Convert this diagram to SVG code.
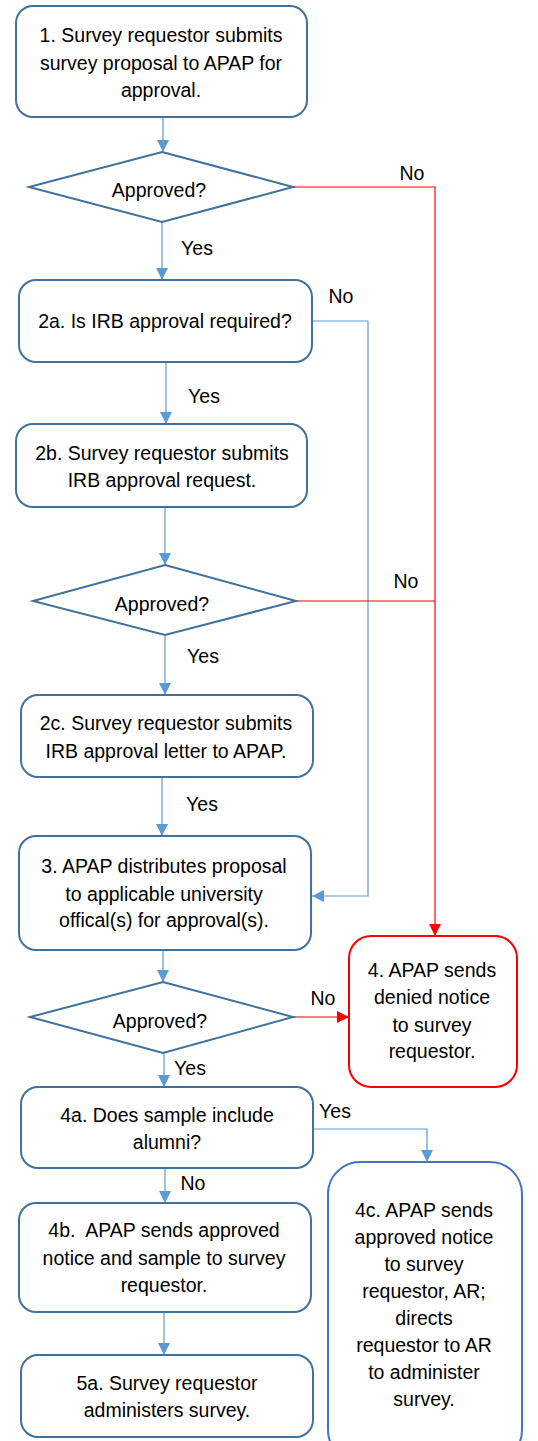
<svg xmlns="http://www.w3.org/2000/svg" width="538" height="1441" viewBox="0 0 538 1441">
<style>
.n{fill:#fff;stroke:#41719C;stroke-width:2}
.nr{fill:#fff;stroke:#FF0000;stroke-width:2}
.nb{fill:#fff;stroke:#4472C4;stroke-width:2}
.t{font-family:"Liberation Sans",Arial,sans-serif;font-size:19.5px;fill:#000;text-anchor:middle}
.cb{fill:none;stroke:#5B9BD5;stroke-width:1.2}
.cr{fill:none;stroke:#FF0000;stroke-width:1.2}
</style>
<defs>
<marker id="ab" markerUnits="userSpaceOnUse" markerWidth="12" markerHeight="12" refX="10" refY="5" orient="auto" viewBox="0 0 10 10"><path d="M0,0 L10,5 L0,10 Z" fill="#5B9BD5"/></marker>
<marker id="ar" markerUnits="userSpaceOnUse" markerWidth="12" markerHeight="12" refX="10" refY="5" orient="auto" viewBox="0 0 10 10"><path d="M0,0 L10,5 L0,10 Z" fill="#FF0000"/></marker>
</defs>
<g id="connectors">
<path class="cb" d="M163,117 V152" marker-end="url(#ab)"/>
<path class="cb" d="M162,222 V280" marker-end="url(#ab)"/>
<path class="cr" d="M293,187 H435 V936" marker-end="url(#ar)"/>
<path class="cb" d="M312,321 H368 V896 H312" marker-end="url(#ab)"/>
<path class="cb" d="M166,362 V424" marker-end="url(#ab)"/>
<path class="cb" d="M165,507 V565" marker-end="url(#ab)"/>
<path class="cr" d="M296,601 H435"/>
<path class="cb" d="M165,635 V695" marker-end="url(#ab)"/>
<path class="cb" d="M162,777 V836" marker-end="url(#ab)"/>
<path class="cb" d="M163,950 V982" marker-end="url(#ab)"/>
<path class="cr" d="M293,1017 H349" marker-end="url(#ar)"/>
<path class="cb" d="M164,1053 V1087" marker-end="url(#ab)"/>
<path class="cb" d="M313,1129 H427 V1162" marker-end="url(#ab)"/>
<path class="cb" d="M165,1168 V1203" marker-end="url(#ab)"/>
<path class="cb" d="M164,1312 V1355" marker-end="url(#ab)"/>
<g class="t">
<text x="412" y="180">No</text>
<text x="197" y="255">Yes</text>
<text x="341" y="303">No</text>
<text x="204" y="403">Yes</text>
<text x="406" y="588">No</text>
<text x="203" y="663">Yes</text>
<text x="202" y="811">Yes</text>
<text x="323" y="1005">No</text>
<text x="190" y="1075">Yes</text>
<text x="335" y="1118">Yes</text>
<text x="193" y="1190">No</text>
</g>
</g>
<g id="n1"><rect class="n" x="16" y="6" width="291" height="111" rx="17"/>
<text class="t" x="161" y="42">1. Survey requestor submits</text>
<text class="t" x="161" y="70">survey proposal to APAP for</text>
<text class="t" x="161" y="97">approval.</text></g>
<g id="d1"><polygon class="n" points="162,152 293,187 162,222 29,187"/>
<text class="t" x="159" y="197">Approved?</text></g>
<g id="n2a"><rect class="n" x="19" y="280" width="293" height="82" rx="17"/>
<text class="t" x="165" y="328">2a. Is IRB approval required?</text></g>
<g id="n2b"><rect class="n" x="16" y="424" width="291" height="83" rx="17"/>
<text class="t" x="162" y="460">2b. Survey requestor submits</text>
<text class="t" x="162" y="487">IRB approval request.</text></g>
<g id="d2"><polygon class="n" points="165,565 296,601 165,635 33,601"/>
<text class="t" x="162" y="611">Approved?</text></g>
<g id="n2c"><rect class="n" x="21" y="695" width="292" height="82" rx="17"/>
<text class="t" x="166" y="730">2c. Survey requestor submits</text>
<text class="t" x="166" y="758">IRB approval letter to APAP.</text></g>
<g id="n3"><rect class="n" x="19" y="836" width="292" height="114" rx="17"/>
<text class="t" x="164" y="873">3. APAP distributes proposal</text>
<text class="t" x="164" y="901">to applicable university</text>
<text class="t" x="164" y="927">offical(s) for approval(s).</text></g>
<g id="n4"><rect class="nr" x="349" y="936" width="168" height="151" rx="22"/>
<text class="t" x="432" y="977">4. APAP sends</text>
<text class="t" x="432" y="1004">denied notice</text>
<text class="t" x="432" y="1032">to survey</text>
<text class="t" x="432" y="1058">requestor.</text></g>
<g id="d3"><polygon class="n" points="163,982 293,1017 163,1053 30,1017"/>
<text class="t" x="160" y="1028">Approved?</text></g>
<g id="n4a"><rect class="n" x="21" y="1087" width="292" height="81" rx="17"/>
<text class="t" x="167" y="1122">4a. Does sample include</text>
<text class="t" x="167" y="1149">alumni?</text></g>
<g id="n4c"><rect class="nb" x="328" y="1162" width="194" height="300" rx="32"/>
<text class="t" x="424" y="1217">4c. APAP sends</text>
<text class="t" x="424" y="1244">approved notice</text>
<text class="t" x="424" y="1271">to survey</text>
<text class="t" x="424" y="1298">requestor, AR;</text>
<text class="t" x="424" y="1325">directs</text>
<text class="t" x="424" y="1352">requestor to AR</text>
<text class="t" x="424" y="1379">to administer</text>
<text class="t" x="424" y="1406">survey.</text></g>
<g id="n4b"><rect class="n" x="19" y="1203" width="292" height="109" rx="17"/>
<text class="t" x="164" y="1237">4b.&#160; APAP sends approved</text>
<text class="t" x="164" y="1265">notice and sample to survey</text>
<text class="t" x="164" y="1292">requestor.</text></g>
<g id="n5a"><rect class="n" x="21" y="1355" width="292" height="82" rx="17"/>
<text class="t" x="167" y="1390">5a. Survey requestor</text>
<text class="t" x="167" y="1417">administers survey.</text></g>
</svg>
